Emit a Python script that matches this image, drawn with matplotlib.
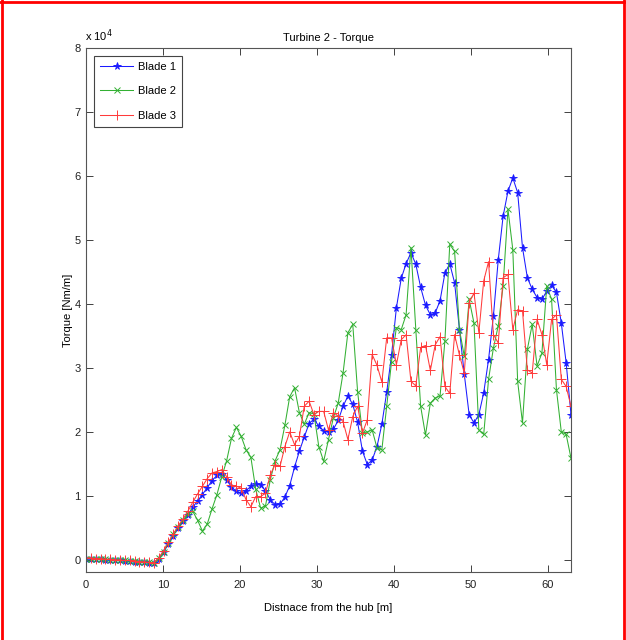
import matplotlib
matplotlib.use("Agg")
import matplotlib.pyplot as plt
from matplotlib.lines import Line2D

plt.rcParams['font.family'] = ['Liberation Sans', 'DejaVu Sans']

# Radial positions along the blade [m]
distance = [0.00, 0.63, 1.26, 1.89, 2.52, 3.15, 3.78, 4.41, 5.04, 5.67,
            6.30, 6.93, 7.56, 8.19, 8.82, 9.45, 10.08, 10.71, 11.34, 11.97,
            12.60, 13.23, 13.86, 14.49, 15.12, 15.75, 16.38, 17.01, 17.64, 18.27,
            18.90, 19.53, 20.16, 20.79, 21.42, 22.05, 22.68, 23.31, 23.94, 24.57,
            25.20, 25.83, 26.46, 27.09, 27.72, 28.35, 28.98, 29.61, 30.24, 30.87,
            31.50, 32.13, 32.76, 33.39, 34.02, 34.65, 35.28, 35.91, 36.54, 37.17,
            37.80, 38.43, 39.06, 39.69, 40.32, 40.95, 41.58, 42.21, 42.84, 43.47,
            44.10, 44.73, 45.36, 45.99, 46.62, 47.25, 47.88, 48.51, 49.14, 49.77,
            50.40, 51.03, 51.66, 52.29, 52.92, 53.55, 54.18, 54.81, 55.44, 56.07,
            56.70, 57.33, 57.96, 58.59, 59.22, 59.85, 60.48, 61.11, 61.74, 62.37,
            63.00]

# Torque values in units of 1e4 Nm/m
blade1 = [0.02, 0.02, 0.01, 0.01, 0.00, 0.00, -0.01, -0.01, -0.02, -0.02,
          -0.03, -0.03, -0.04, -0.05, -0.05, 0.02, 0.12, 0.25, 0.38, 0.50,
          0.60, 0.70, 0.82, 0.92, 1.02, 1.13, 1.24, 1.32, 1.34, 1.25,
          1.14, 1.07, 1.04, 1.08, 1.15, 1.19, 1.17, 1.08, 0.94, 0.86,
          0.87, 0.98, 1.16, 1.45, 1.70, 1.92, 2.13, 2.20, 2.09, 2.02,
          2.00, 2.04, 2.18, 2.40, 2.56, 2.43, 2.15, 1.70, 1.49, 1.56,
          1.77, 2.12, 2.62, 3.20, 3.94, 4.40, 4.63, 4.80, 4.62, 4.26,
          3.98, 3.83, 3.86, 4.05, 4.48, 4.63, 4.33, 3.60, 2.90, 2.27,
          2.14, 2.27, 2.61, 3.13, 3.81, 4.69, 5.37, 5.76, 5.97, 5.74,
          4.88, 4.41, 4.23, 4.10, 4.07, 4.20, 4.29, 4.18, 3.70, 3.08,
          2.27]

blade2 = [0.02, 0.02, 0.02, 0.01, 0.01, 0.00, 0.00, -0.01, -0.01, -0.02,
          -0.02, -0.03, -0.04, -0.04, -0.05, 0.03, 0.13, 0.26, 0.40, 0.52,
          0.62, 0.72, 0.76, 0.62, 0.45, 0.56, 0.80, 1.02, 1.30, 1.55,
          1.90, 2.07, 1.93, 1.72, 1.60, 1.10, 0.81, 0.84, 1.25, 1.55,
          1.72, 2.10, 2.55, 2.69, 2.30, 2.12, 2.30, 2.28, 1.77, 1.54,
          1.88, 2.22, 2.45, 2.92, 3.55, 3.68, 2.63, 1.98, 2.00, 2.03,
          1.75, 1.72, 2.40, 3.10, 3.63, 3.60, 3.83, 4.88, 3.60, 2.40,
          1.95, 2.45, 2.53, 2.56, 3.42, 4.93, 4.82, 3.60, 3.18, 4.07,
          3.70, 2.03, 1.96, 2.82, 3.31, 3.66, 4.28, 5.48, 4.85, 2.79,
          2.14, 3.29, 3.68, 3.03, 3.23, 4.28, 4.07, 2.66, 2.00, 1.96,
          1.59]

blade3 = [0.03, 0.03, 0.02, 0.02, 0.01, 0.01, 0.00, 0.00, -0.01, -0.01,
          -0.02, -0.03, -0.03, -0.04, -0.05, 0.03, 0.14, 0.28, 0.40, 0.53,
          0.64, 0.76, 0.90, 1.03, 1.15, 1.27, 1.36, 1.38, 1.41, 1.30,
          1.17, 1.15, 1.12, 0.94, 0.83, 0.99, 0.99, 1.04, 1.33, 1.49,
          1.46, 1.77, 2.00, 1.80, 1.93, 2.40, 2.48, 2.27, 2.32, 2.32,
          2.03, 2.30, 2.25, 2.16, 1.88, 2.24, 2.40, 1.98, 2.19, 3.21,
          3.04, 2.78, 3.47, 3.47, 3.05, 3.44, 3.52, 2.79, 2.72, 3.32,
          3.35, 2.96, 3.36, 3.49, 2.71, 2.60, 3.52, 3.20, 2.92, 4.02,
          4.17, 3.55, 4.36, 4.66, 3.52, 3.39, 4.41, 4.46, 3.60, 3.91,
          3.89, 2.97, 2.92, 3.76, 3.52, 3.05, 3.76, 3.83, 2.82, 2.71,
          2.40]

labels = ["Blade 1", "Blade 2", "Blade 3"]
x_ticks = [0, 10, 20, 30, 40, 50, 60]
y_ticks = [0, 1, 2, 3, 4, 5, 6, 7, 8]

scale = 1e4
W, H = 626, 640
fig = plt.figure(figsize=(W / 100, H / 100), dpi=100)
ax = fig.add_axes([86 / W, 1 - 572 / H, (571 - 86) / W, (572 - 48) / H])

ax.plot(distance, [v * scale for v in blade1], color='#1a1aff', lw=0.75,
        marker='*', ms=5.5, mew=0.6, label=labels[0])
ax.plot(distance, [v * scale for v in blade2], color='#33b033', lw=0.75,
        marker='x', ms=4.2, mew=0.7, label=labels[1])
ax.plot(distance, [v * scale for v in blade3], color='#ff3b3b', lw=0.75,
        marker='+', ms=7, mew=0.7, label=labels[2])

ax.set_xlim(0, 63)
ax.set_ylim(-1900, 80000)
ax.set_xticks(x_ticks)
ax.set_xticklabels([str(t) for t in x_ticks])
ax.set_yticks([t * scale for t in y_ticks])
ax.set_yticklabels([str(t) for t in y_ticks])

ax.tick_params(direction='in', length=5, width=0.6, top=True, right=True,
               labelsize=8, colors='#222222')
ax.tick_params(axis='y', pad=4)
ax.tick_params(axis='x', pad=6)
for s in ax.spines.values():
    s.set_color('#555555')
    s.set_linewidth(0.8)

ax.set_title("Turbine 2 - Torque", fontsize=8, pad=5)
ax.set_xlabel("Distnace from the hub [m]", fontsize=8, labelpad=9)
ax.set_ylabel("Torque [Nm/m]", fontsize=8, labelpad=1)
ax.text(-0.002, 1.008, r"x 10$^{4}$", transform=ax.transAxes, fontsize=8,
        ha='left', va='bottom')

leg = ax.legend(loc='upper left', fontsize=8, handlelength=3.0,
                handletextpad=0.4, labelspacing=1.3, borderpad=0.55,
                fancybox=False, framealpha=1, borderaxespad=0.7)
leg.get_frame().set_edgecolor('#444444')
leg.get_frame().set_linewidth(0.8)

# red frame around the picture
for xs, ys in [([1.5 / W, 1.5 / W], [0, 1]), ([0, 1], [1 - 1.5 / H, 1 - 1.5 / H]),
               ([1 - 2.5 / W, 1 - 2.5 / W], [0, 1])]:
    fig.add_artist(Line2D(xs, ys, color='#ff0000', lw=2, transform=fig.transFigure))

fig.savefig("out.png", dpi=100)
